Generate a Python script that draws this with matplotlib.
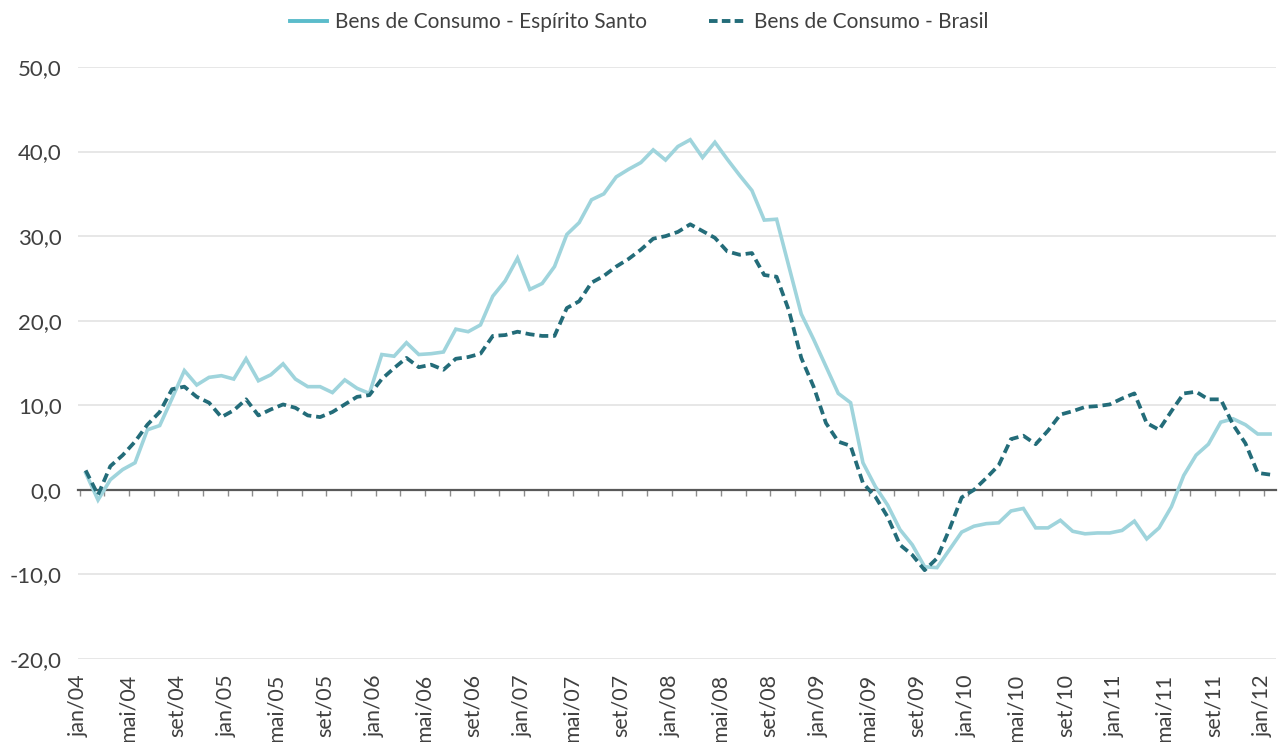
import matplotlib
matplotlib.use('Agg')
import matplotlib.pyplot as plt
from matplotlib.lines import Line2D

plt.rcParams['font.family'] = ['Lato', 'DejaVu Sans']

# meses jan/04 .. jan/12
meses = ['jan', 'fev', 'mar', 'abr', 'mai', 'jun', 'jul', 'ago', 'set', 'out', 'nov', 'dez']
rotulos = [f'{meses[k % 12]}/{4 + k // 12:02d}' for k in range(97)]

espirito_santo = [2.0, -1.2, 1.2, 2.4, 3.2, 7.1, 7.6, 10.8, 14.1, 12.4, 13.3, 13.5,
                  13.1, 15.5, 12.9, 13.6, 14.9, 13.1, 12.2, 12.2, 11.5, 13.0, 12.0, 11.4,
                  16.0, 15.8, 17.4, 16.0, 16.1, 16.3, 19.0, 18.7, 19.5, 22.9, 24.7, 27.4,
                  23.7, 24.4, 26.4, 30.2, 31.6, 34.3, 35.0, 37.0, 37.9, 38.7, 40.2, 39.0,
                  40.6, 41.4, 39.3, 41.1, 39.1, 37.2, 35.4, 31.9, 32.0, 26.4, 20.8, 17.8,
                  14.6, 11.4, 10.3, 3.2, 0.4, -1.8, -4.7, -6.5, -9.1, -9.2, -7.1, -5.0,
                  -4.3, -4.0, -3.9, -2.5, -2.2, -4.5, -4.5, -3.6, -4.9, -5.2, -5.1, -5.1,
                  -4.8, -3.7, -5.8, -4.5, -2.0, 1.7, 4.1, 5.4, 8.0, 8.4, 7.7, 6.6,
                  6.6]

brasil = [2.3, -0.6, 2.8, 4.1, 5.7, 7.7, 9.2, 11.9, 12.2, 11.0, 10.3, 8.6,
          9.4, 10.7, 8.8, 9.5, 10.1, 9.7, 8.8, 8.6, 9.2, 10.1, 11.0, 11.2,
          13.1, 14.4, 15.6, 14.5, 14.8, 14.2, 15.5, 15.7, 16.1, 18.2, 18.3, 18.7,
          18.4, 18.2, 18.2, 21.5, 22.3, 24.5, 25.3, 26.4, 27.3, 28.4, 29.7, 30.0,
          30.5, 31.4, 30.6, 29.8, 28.2, 27.8, 28.0, 25.4, 25.2, 21.2, 15.6, 12.2,
          7.9, 5.7, 5.2, 0.8, -0.8, -3.2, -6.5, -7.7, -9.5, -8.1, -4.7, -0.9,
          0.0, 1.4, 2.9, 6.0, 6.4, 5.4, 7.0, 8.9, 9.3, 9.8, 9.9, 10.1,
          10.8, 11.4, 7.9, 7.1, 9.3, 11.4, 11.6, 10.7, 10.7, 7.7, 5.5, 2.0,
          1.8]

yticks = [-20, -10, 0, 10, 20, 30, 40, 50]

cor_es = '#9fd4dc'
cor_br = '#236c79'
cinza_txt = '#404040'

fig = plt.figure(figsize=(12.81, 7.42), dpi=100)
ax = fig.add_axes([0.0611, 0.1119, 0.9352, 0.7978])

x = list(range(len(rotulos)))
ax.plot(x, espirito_santo, color=cor_es, lw=2.6, solid_joinstyle='miter', zorder=3)
ax.plot(x, brasil, color=cor_br, lw=2.7, dashes=(2.4, 1.3), dash_capstyle='butt', zorder=4)

ax.set_xlim(-0.5, 96.5)
ax.set_ylim(-20, 50)

for v in yticks:
    if v != 0:
        ax.axhline(v, color='#e3e3e3', lw=1.2, zorder=1)

for s in ax.spines.values():
    s.set_visible(False)

ax.set_yticks(yticks)
ax.set_yticklabels([f'{v:.1f}'.replace('.', ',') for v in yticks])
ax.tick_params(axis='y', length=0, pad=12, labelsize=16, labelcolor=cinza_txt)

# rotulos do eixo x na base
pos_rot = [i - 0.6 for i in x[::4]]
ax.set_xticks(pos_rot)
ax.set_xticklabels(rotulos[::4], rotation=90, va='top', ha='center')
ax.tick_params(axis='x', length=0, pad=11, labelsize=15.5, labelcolor=cinza_txt)

# eixo no zero com marcas
sec = ax.secondary_xaxis(20 / 70)
sec.spines['bottom'].set_color('#595959')
sec.spines['bottom'].set_linewidth(1.6)
sec.set_xticks([k - 0.5 for k in range(0, 97, 2)])
sec.set_xticklabels([])
sec.tick_params(axis='x', direction='out', length=4.5, width=1, color='#8c8c8c')

handles = [Line2D([], [], color='#5bbccb', lw=2.8),
           Line2D([], [], color=cor_br, lw=2.8, dashes=(2.2, 1.1), dash_capstyle='butt')]
fig.legend(handles, ['Bens de Consumo - Espírito Santo', 'Bens de Consumo - Brasil'],
           loc='center', bbox_to_anchor=(0.499, 0.970), ncol=2, frameon=False,
           fontsize=15, handlelength=1.8, handletextpad=0.35, columnspacing=3.0,
           labelcolor=cinza_txt)

fig.savefig('out.png', dpi=100)
